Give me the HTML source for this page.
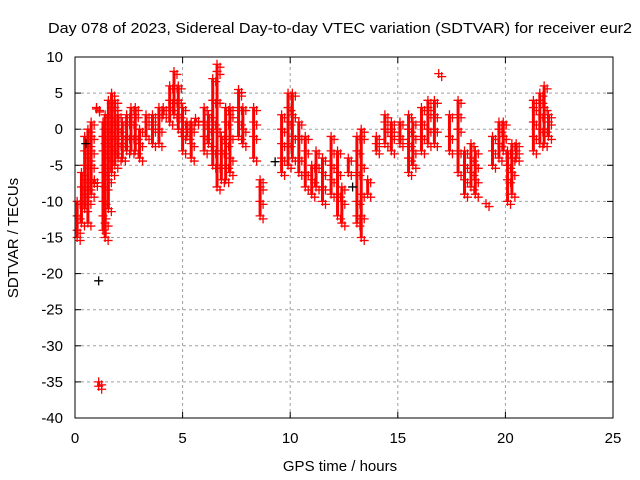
<!DOCTYPE html>
<html><head><meta charset="utf-8"><style>
body{margin:0;background:#fff}
svg{display:block;font-family:"Liberation Sans",sans-serif}
</style></head><body>
<svg id="c" width="640" height="480">
<text x="340" y="33" text-anchor="middle" font-size="15" textLength="584" lengthAdjust="spacingAndGlyphs">Day 078 of 2023, Sidereal Day-to-day VTEC variation (SDTVAR) for receiver eur2</text>
<text x="340" y="471" text-anchor="middle" font-size="15">GPS time / hours</text>
<text transform="translate(18,238) rotate(-90)" text-anchor="middle" font-size="15">SDTVAR / TECUs</text>
<g id="grid"></g><g id="marks"></g>
<rect x="75" y="57" width="538" height="361" fill="none" stroke="#000" stroke-width="1"/>
</svg>
<script>
const xTicks=[0,5,10,15,20,25];
const yTicks=[10,5,0,-5,-10,-15,-20,-25,-30,-35,-40];
const times=[0.1,0.3,0.45,0.6,0.75,0.9,1.0,1.1,1.3,1.4,1.55,1.7,1.85,2.0,2.2,2.4,2.6,2.8,3.0,3.3,3.6,3.9,4.1,4.4,4.6,4.8,5.0,5.2,5.4,5.6,6.0,6.2,6.4,6.6,6.8,7.0,7.2,7.6,7.8,8.3,8.6,9.6,9.9,10.1,10.4,10.7,11.0,11.2,11.5,11.9,12.2,12.4,12.7,13.1,13.3,13.6,14.0,14.4,14.7,15.1,15.5,15.7,16.1,16.4,16.7,16.9,17.4,17.8,18.1,18.4,18.6,19.1,19.4,19.7,19.9,20.1,20.3,20.5,21.3,21.6,21.8,22.0];
const values=[[-15,-14,-12,-10],[-13,-10,-8,-6],[-11,-9,-7,-5,-3,-1],[-13,-10,-8,-4,-2,0],[-9,-7,-5,-3,-1,1],[-7,-7.5],[2.8,3],[-35,-35.6],[-14,-12,-10,-6,-3,-1,1],[-15,-13,-8,-5,-2,0,2],[-11,-7,-4,-2,0,2,4],[-6,-3,-1,1,3,5],[-5,-3,-1,1,3,4],[-4,-2,0,2],[-4,-2,-1,1],[-3,-1,1,2],[-3,-1,1,3],[-3,-1,2,3],[-4,-2,0],[-1,1,2],[-2,0,1,2],[-2,0,2,3],[2,3],[1,3,4,6],[2,4,6,8],[0,2,4,6],[-3,-1,1,3],[-1,0,1],[-4,-2,0,1],[1,1.5],[-3,-1,1,3],[-2,0,2],[-5,-3,1,4,7],[-8,-5,0,4,8,9],[-7,-3,-1],[-7,-5,-2,1,3],[-6,-4,-1,2,3],[-1,1,3,5,5.5],[-2,0,3],[-4,-1,1,3],[-12,-10,-8,-7],[-6,-4,-2,0,2],[-5,-2,1,3,5],[-4,-1,2,5],[-6,-4,-1,1],[-8,-6,-3,-1],[-9,-7,-5],[-8,-5,-3],[-10,-8,-6,-4],[-9,-7,-5,-3,-1],[-12,-9,-6,-3],[-13,-10,-8],[-6,-4],[-13,-12,-10,-6,-3,-1],[-15,-12,-9,-5,-1,0],[-9,-7],[-3,-2,-1],[-2,0,1,2],[-3,-1,0,1],[-2,-1,1],[-6,-4,-2,0,2],[-5,-3,-1,1],[-3,-1,1,3],[-2,0,2,3,4],[-2,0,2,4],[7.7],[-3,-1,2],[-6,-3,0,2,4],[-9,-7,-5,-3],[-8,-6,-4,-2],[-9,-7,-5,-3],[-10.3],[-5,-3,-1],[-4,-2,0,1],[-3,-1,1],[-10,-7,-5,-3],[-9,-6,-4,-2],[-4,-3,-2],[-3,-1,1,3,4],[-2,0,2,4,5],[-2,0,3,6],[-1,1,2]];
const blackTimes=[1.1,0.5,9.3,12.9];
const blackValues=[-21,-2,-4.5,-8];
const NS='http://www.w3.org/2000/svg';
const X0=75,X1=613,Y0=418,Y1=57;
function sx(t){return X0+(t-0)/(25-0)*(X1-X0);}
function sy(v){return Y0-(v+40)/(50)*(Y0-Y1);}
function mk(tag,attrs,parent){const e=document.createElementNS(NS,tag);for(const k in attrs)e.setAttribute(k,attrs[k]);parent.appendChild(e);return e;}
const grid=document.getElementById('grid'),marks=document.getElementById('marks');
xTicks.forEach(t=>{
  const x=sx(t);
  if(t>0&&t<25){const g=mk('line',{x1:x,x2:x,y1:Y0,y2:Y1,stroke:'#a0a0a0','stroke-dasharray':'3,3'},grid);
  
  }
  mk('line',{x1:x,x2:x,y1:Y0,y2:Y0-6,stroke:'#000'},grid);
  mk('line',{x1:x,x2:x,y1:Y1,y2:Y1+6,stroke:'#000'},grid);
  const l=mk('text',{x:x,y:Y0+25,'text-anchor':'middle','font-size':15},grid);l.textContent=t;
  
  
});
yTicks.forEach(v=>{
  const y=sy(v);
  if(v<10&&v>-40){const g=mk('line',{x1:X0,x2:X1,y1:y,y2:y,stroke:'#a0a0a0','stroke-dasharray':'3,3'},grid);
  
  }
  mk('line',{x1:X0,x2:X0+6,y1:y,y2:y,stroke:'#000'},grid);
  mk('line',{x1:X1,x2:X1-6,y1:y,y2:y,stroke:'#000'},grid);
  const l=mk('text',{x:X0-12,y:y+5,'text-anchor':'end','font-size':15},grid);l.textContent=v;
  
  
});
function plus(x,y,col){
  const p=mk('path',{d:`M${x-4.5},${y}H${x+4.5}M${x},${y-4.5}V${y+4.5}`,stroke:col,'stroke-width':1.3,fill:'none'},marks);
  
  
}
times.forEach((t,i)=>{
  const vs=values[i],x=sx(t);
  const mn=Math.min(...vs),mx=Math.max(...vs);
  if(vs.length>1){const s=mk('line',{x1:x,x2:x,y1:sy(mn),y2:sy(mx),stroke:'#f00','stroke-width':3},marks);
  
  }
  vs.forEach(v=>{plus(x,sy(v),'#f00');plus(x+3,sy(v)+3,'#f00');});
});
blackTimes.forEach((t,i)=>plus(sx(t),sy(blackValues[i]),'#000'));
</script>
</body></html>
